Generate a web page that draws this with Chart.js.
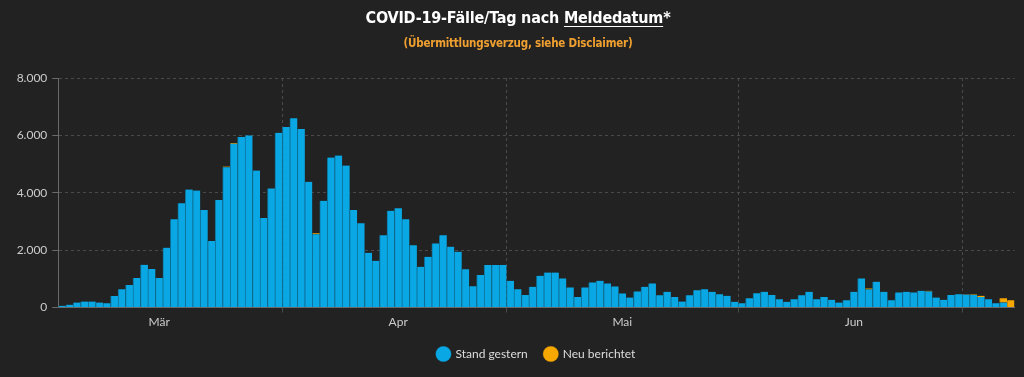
<!DOCTYPE html>
<html lang="de">
<head>
<meta charset="utf-8">
<title>COVID-19-Fälle/Tag nach Meldedatum</title>
<script src="https://cdn.jsdelivr.net/npm/chart.js@4.4.1/dist/chart.umd.min.js"></script>
<style>
  body { margin: 0; background: #222222; }
  #wrap { position: relative; width: 1024px; height: 377px; overflow: hidden; }
  #casesChart { display: block; }
  #chartTitle {
    position: absolute; left: 0; top: 7px; width: 1036px;
    text-align: center; color: #ffffff;
    font-family: "Liberation Sans Narrow", "DejaVu Sans Condensed", "Open Sans", sans-serif;
    font-size: 16px; font-weight: bold; line-height: 22px; letter-spacing: -0.2px;
  }
  #chartTitle u { text-underline-offset: 3px; text-decoration-thickness: 1px; }
  #chartSub {
    position: absolute; left: 0; top: 35px; width: 1036px;
    text-align: center; color: #f0a030;
    font-family: "Liberation Sans Narrow", "DejaVu Sans Condensed", "Open Sans", sans-serif;
    font-size: 11.5px; font-weight: bold; line-height: 16px; letter-spacing: -0.2px;
  }
</style>
</head>
<body>
<div id="wrap">
  <canvas id="casesChart" width="1024" height="377"></canvas>
  <div id="chartTitle">COVID-19-Fälle/Tag nach <u>Meldedatum</u>*</div>
  <div id="chartSub">(Übermittlungsverzug, siehe Disclaimer)</div>
</div>
<script>
// First reporting day shown on the chart
const startDate = new Date(2020, 2, 2);

// Cases per day, as of yesterday
const standGestern = [
  60, 100, 175, 210, 210, 175, 150, 400, 640, 780,
  1025, 1490, 1340, 1025, 2085, 3075, 3635, 4110, 4080, 3400,
  2320, 3750, 4890, 5710, 5940, 6000, 4775, 3120, 4150, 6090,
  6290, 6600, 6220, 4380, 2550, 3720, 5230, 5300, 4950, 3400,
  2935, 1910, 1630, 2515, 3370, 3460, 3075, 2170, 1420, 1770,
  2235, 2515, 2120, 1945, 1330, 745, 1130, 1480, 1480, 1480,
  930, 640, 440, 720, 1105, 1220, 1220, 1015, 700, 370,
  700, 875, 930, 840, 735, 490, 350, 560, 720, 840,
  430, 550, 370, 210, 430, 605, 640, 550, 465, 410,
  200, 150, 325, 500, 550, 440, 290, 200, 290, 430,
  550, 290, 370, 270, 175, 255, 550, 1015, 630, 900,
  550, 255, 525, 550, 525, 580, 560, 350, 270, 440,
  465, 450, 445, 365, 290, 150, 175, 0
];

// Newly reported cases on top
const neuBerichtet = [
  0, 0, 0, 0, 0, 0, 0, 0, 0, 0,
  0, 0, 0, 0, 0, 0, 0, 0, 0, 0,
  0, 0, 25, 20, 0, 0, 0, 0, 0, 0,
  0, 0, 0, 0, 40, 0, 0, 0, 0, 0,
  0, 0, 0, 0, 0, 0, 0, 0, 0, 0,
  0, 0, 0, 0, 0, 0, 0, 0, 0, 0,
  0, 0, 0, 0, 0, 0, 0, 0, 0, 0,
  0, 0, 0, 0, 0, 0, 0, 0, 0, 0,
  0, 0, 0, 0, 0, 0, 0, 0, 0, 0,
  0, 0, 0, 0, 0, 0, 0, 0, 0, 0,
  0, 0, 0, 0, 0, 0, 0, 0, 35, 0,
  0, 0, 0, 0, 0, 0, 20, 0, 0, 0,
  0, 15, 20, 45, 0, 0, 150, 255
];

// Month labels on the x axis and the day each one sits on
const tickLabels = ["Mär", "Apr", "Mai", "Jun"];
const tickDates = ["15.03.", "16.04.", "16.05.", "16.06."];

// y axis ticks
const yTicks = [0, 2000, 4000, 6000, 8000];

const colors = {
  gestern: "#09a8e5",
  neu: "#f6a800",
  grid: "#4a4a4a",
  axis: "#6a6a6a",
  text: "#cccccc",
};

// dd.mm. labels for every day
function buildDays(start, count) {
  const days = [];
  for (let i = 0; i < count; i++) {
    const d = new Date(start.getFullYear(), start.getMonth(), start.getDate() + i);
    const dd = String(d.getDate()).padStart(2, "0");
    const mm = String(d.getMonth() + 1).padStart(2, "0");
    days.push(dd + "." + mm + ".");
  }
  return days;
}

function formatThousands(v) {
  return String(v).replace(/\B(?=(\d{3})+(?!\d))/g, ".");
}

const days = buildDays(startDate, standGestern.length);

// vertical grid line only where a month starts
function monthLineColor(context) {
  const label = days[context.index];
  return label && label.startsWith("01.") ? colors.grid : "rgba(0,0,0,0)";
}

Chart.defaults.font.family = "Lato, 'Open Sans', sans-serif";
Chart.defaults.font.size = 12;

const ctx = document.getElementById("casesChart").getContext("2d");
new Chart(ctx, {
  type: "bar",
  data: {
    labels: days,
    datasets: [
      {
        label: "Stand gestern",
        data: standGestern,
        backgroundColor: colors.gestern,
        borderColor: "#0e7199",
        borderWidth: { left: 1, right: 0, top: 0, bottom: 0 },
        borderSkipped: false,
        barPercentage: 1,
        categoryPercentage: 1,
      },
      {
        label: "Neu berichtet",
        data: neuBerichtet,
        backgroundColor: colors.neu,
        borderColor: "#b57c00",
        borderWidth: { left: 1, right: 0, top: 0, bottom: 0 },
        borderSkipped: false,
        barPercentage: 1,
        categoryPercentage: 1,
      },
    ],
  },
  options: {
    responsive: false,
    animation: false,
    layout: { padding: { top: 78, right: 9.5, bottom: 7, left: 0 } },
    plugins: {
      legend: {
        position: "bottom",
        fullSize: false,
        labels: {
          color: "#dddddd",
          usePointStyle: true,
          pointStyle: "circle",
          boxHeight: 11,
          padding: 17,
          font: { size: 12 },
        },
      },
      tooltip: { enabled: false },
    },
    scales: {
      x: {
        stacked: true,
        grid: {
          offset: true,
          color: monthLineColor,
          tickLength: 5,
        },
        border: { display: true, color: colors.axis, dash: [3, 3] },
        ticks: {
          autoSkip: false,
          maxRotation: 0,
          padding: 2,
          color: colors.text,
          callback: (value, index) => {
            const i = tickDates.indexOf(days[index]);
            return i >= 0 ? tickLabels[i] : "";
          },
        },
        afterFit: (scale) => { scale.height = 23.5; },
      },
      y: {
        stacked: true,
        min: yTicks[0],
        max: yTicks[yTicks.length - 1],
        grid: {
          color: (c) => (c.tick && c.tick.value === 0 ? "rgba(0,0,0,0)" : colors.grid),
          tickColor: colors.axis,
          tickLength: 6,
        },
        border: { display: true, color: colors.axis, dash: [3, 3] },
        ticks: {
          stepSize: yTicks[1] - yTicks[0],
          padding: 5,
          color: colors.text,
          callback: (v) => formatThousands(v),
        },
        afterFit: (scale) => { scale.width = 58.3; },
      },
    },
  },
});
</script>
</body>
</html>
